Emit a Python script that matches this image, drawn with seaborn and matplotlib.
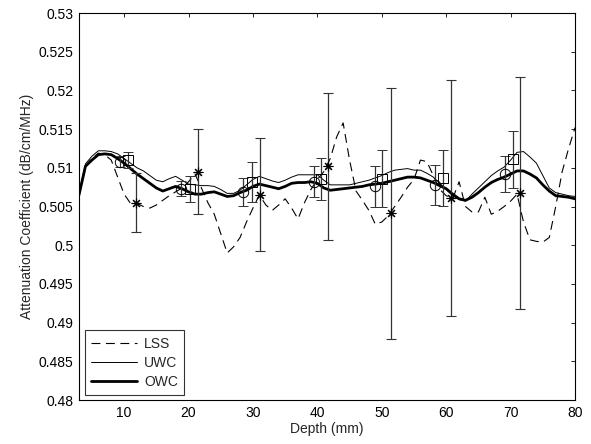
import numpy as np
import pandas as pd
import matplotlib
matplotlib.use("Agg")
import matplotlib.pyplot as plt
import seaborn as sns

depth = list(range(3, 81))
lss = [0.5065, 0.5102, 0.5112, 0.5119, 0.5117, 0.5110, 0.5088, 0.5066, 0.5054, 0.5054,
       0.5050, 0.5048, 0.5052, 0.5058, 0.5064, 0.5069, 0.5074, 0.5082, 0.5092, 0.5074,
       0.5055, 0.5040, 0.5015, 0.4990, 0.4998, 0.5010, 0.5030, 0.5048, 0.5065, 0.5052,
       0.5045, 0.5052, 0.5060, 0.5048, 0.5034, 0.5055, 0.5072, 0.5085, 0.5095, 0.5112,
       0.5140, 0.5158, 0.5110, 0.5070, 0.5058, 0.5045, 0.5027, 0.5030, 0.5038, 0.5050,
       0.5062, 0.5075, 0.5085, 0.5110, 0.5108, 0.5090, 0.5072, 0.5064, 0.5060, 0.5082,
       0.5050, 0.5043, 0.5043, 0.5062, 0.5040, 0.5044, 0.5050, 0.5057, 0.5066, 0.5030,
       0.5007, 0.5005, 0.5004, 0.5010, 0.5050, 0.5095, 0.5125, 0.5152]
uwc = [0.5068, 0.5105, 0.5115, 0.5122, 0.5122, 0.5121, 0.5118, 0.5112, 0.5106, 0.5100,
       0.5096, 0.5090, 0.5084, 0.5082, 0.5086, 0.5089, 0.5084, 0.5079, 0.5078, 0.5077,
       0.5077, 0.5076, 0.5072, 0.5067, 0.5067, 0.5071, 0.5078, 0.5085, 0.5089, 0.5086,
       0.5083, 0.5081, 0.5084, 0.5088, 0.5091, 0.5091, 0.5091, 0.5091, 0.5084, 0.5078,
       0.5078, 0.5078, 0.5078, 0.5080, 0.5082, 0.5084, 0.5087, 0.5090, 0.5094, 0.5097,
       0.5098, 0.5099, 0.5097, 0.5097, 0.5093, 0.5088, 0.5080, 0.5072, 0.5064, 0.5059,
       0.5057, 0.5066, 0.5074, 0.5082, 0.5090, 0.5096, 0.5101, 0.5110, 0.5120, 0.5121,
       0.5114, 0.5106, 0.5090, 0.5074, 0.5068, 0.5066, 0.5064, 0.5063]
owc = [0.5065, 0.5102, 0.5110, 0.5117, 0.5118, 0.5117, 0.5112, 0.5106, 0.5099, 0.5092,
       0.5086, 0.5080, 0.5074, 0.5070, 0.5073, 0.5076, 0.5073, 0.5069, 0.5066, 0.5066,
       0.5068, 0.5069, 0.5066, 0.5063, 0.5064, 0.5068, 0.5071, 0.5076, 0.5079, 0.5077,
       0.5075, 0.5073, 0.5076, 0.5080, 0.5081, 0.5081, 0.5082, 0.5080, 0.5074, 0.5071,
       0.5072, 0.5073, 0.5074, 0.5075, 0.5076, 0.5078, 0.5079, 0.5080, 0.5082, 0.5084,
       0.5086, 0.5088, 0.5088, 0.5087, 0.5084, 0.5081, 0.5077, 0.5073, 0.5066, 0.5060,
       0.5058, 0.5062, 0.5068, 0.5075, 0.5081, 0.5085, 0.5088, 0.5092, 0.5096, 0.5096,
       0.5092, 0.5087, 0.5078, 0.5070, 0.5064, 0.5063, 0.5062, 0.5060]

# error bar summary points
lss_x = [11.9, 21.5, 31.05, 41.7, 51.4, 60.8, 71.5]
lss_y = [0.5055, 0.5095, 0.5065, 0.5102, 0.5041, 0.5061, 0.5067]
lss_e = [0.0038, 0.0055, 0.0073, 0.0095, 0.0162, 0.0152, 0.0150]
uwc_x = [10.6, 20.2, 29.8, 40.5, 50.1, 59.5, 70.4]
uwc_y = [0.5110, 0.5073, 0.5082, 0.5086, 0.5086, 0.5087, 0.5111]
uwc_e = [0.0010, 0.0017, 0.0026, 0.0027, 0.0037, 0.0036, 0.0037]
owc_x = [9.3, 18.9, 28.5, 39.4, 49.0, 58.2, 69.2]
owc_y = [0.5108, 0.5073, 0.5069, 0.5082, 0.5076, 0.5078, 0.5092]
owc_e = [0.0007, 0.0010, 0.0018, 0.0020, 0.0027, 0.0026, 0.0023]

xticks = [10, 20, 30, 40, 50, 60, 70, 80]
yticks = [0.48, 0.485, 0.49, 0.495, 0.5, 0.505, 0.51, 0.515, 0.52, 0.525, 0.53]

sns.set_theme(style="white")
plt.rcParams['font.family'] = ['Liberation Sans', 'DejaVu Sans']
plt.rcParams['font.size'] = 10

fig = plt.figure(figsize=(5.91, 4.44), dpi=100)
ax = fig.add_axes([0.1337, 0.099, 0.973 - 0.1337, 0.9707 - 0.099])

df = pd.DataFrame({"depth": depth, "LSS": lss, "UWC": uwc, "OWC": owc})

sns.lineplot(data=df, x="depth", y="LSS", ax=ax, color="black", lw=0.8,
             linestyle=(0, (8, 5)), label="LSS")
sns.lineplot(data=df, x="depth", y="UWC", ax=ax, color="black", lw=0.7, label="UWC")
sns.lineplot(data=df, x="depth", y="OWC", ax=ax, color="black", lw=2.0, label="OWC")

ek = dict(ecolor="#333333", elinewidth=0.9, capsize=3.6, capthick=0.9, linestyle="none")
ax.errorbar(lss_x, lss_y, yerr=lss_e, marker=(8, 2, 0), ms=7, mec="black",
            mew=0.8, **ek)
ax.errorbar(uwc_x, uwc_y, yerr=uwc_e, marker="s", ms=7.5, mfc="none", mec="black",
            mew=0.7, **ek)
ax.errorbar(owc_x, owc_y, yerr=owc_e, marker="o", ms=7.5, mfc="none", mec="black",
            mew=0.7, **ek)

ax.set_xlim(3, 80)
ax.set_ylim(0.48, 0.53)
ax.set_xticks(xticks)
ax.set_yticks(yticks)
ax.set_yticklabels([f"{v:g}" for v in yticks])
ax.set_xticklabels([str(v) for v in xticks])
ax.tick_params(direction="in", length=3, width=0.6, top=True, right=True,
               labelsize=10, colors="black", pad=4)
for s in ax.spines.values():
    s.set_color("black")
    s.set_linewidth(0.8)
ax.set_xlabel("Depth (mm)", fontsize=10, labelpad=2)
ax.set_ylabel("Attenuation Coefficient (dB/cm/MHz)", fontsize=10, labelpad=3)

handles, labels = ax.get_legend_handles_labels()
leg = ax.legend(handles[:3], labels[:3], loc="lower left", bbox_to_anchor=(0.012, 0.012),
                frameon=True, fancybox=False, edgecolor="black", fontsize=10,
                handlelength=3.3, handletextpad=0.5, borderpad=0.45,
                labelspacing=0.38, borderaxespad=0.0)
leg.get_frame().set_linewidth(0.8)

fig.savefig("out.png", dpi=100)
